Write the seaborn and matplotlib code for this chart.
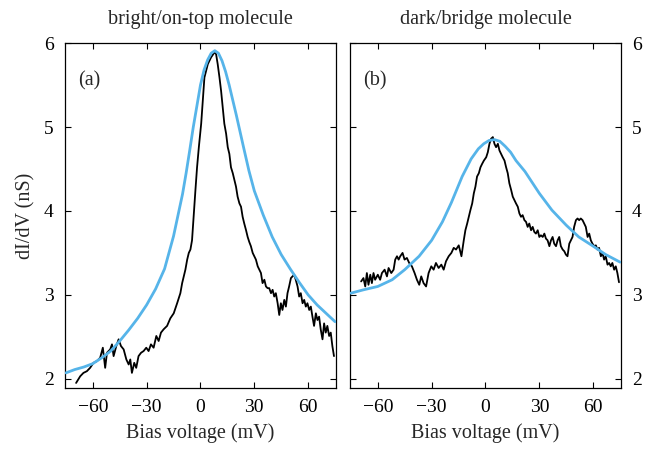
import numpy as np
import pandas as pd
import matplotlib
matplotlib.use("Agg")
import matplotlib.pyplot as plt
import seaborn as sns

# ---------------- data ----------------
# Panel (a): bright/on-top molecule
fit_a_x = [-75, -70, -65, -60, -55, -50, -45, -40, -35, -30, -25, -20, -15, -12, -10, -8, -6, -4,
           -2, 0, 2, 4, 6, 8, 10, 12, 14, 16, 18, 20, 22, 24, 27, 30, 35, 40, 45, 50, 55, 60, 65, 70, 75]
fit_a_y = [2.07, 2.11, 2.14, 2.18, 2.25, 2.33, 2.45, 2.58, 2.72, 2.88, 3.07, 3.31, 3.70, 4.00, 4.20,
           4.45, 4.72, 5.00, 5.25, 5.50, 5.68, 5.80, 5.88, 5.91, 5.88, 5.79, 5.66, 5.50, 5.32, 5.14,
           4.95, 4.76, 4.48, 4.24, 3.95, 3.69, 3.48, 3.31, 3.15, 3.00, 2.88, 2.78, 2.68]

exp_a_x = [-69.3, -67.0, -65.2, -63.3, -61.5, -59.6, -57.7, -55.9, -54.4, -53.1, -52.1, -50.3, -49.3,
           -48.4, -46.9, -45.6, -44.3, -42.8, -41.3, -40.0, -39.1, -38.2, -36.9, -35.8, -34.5, -33.1,
           -31.7, -30.2, -28.9, -27.6, -26.1, -24.6, -23.3, -22.0, -20.5, -18.6, -16.8, -14.9, -13.0,
           -11.2, -10.2, -9.3, -8.4, -7.4, -6.5, -5.6, -4.7, -3.7, -2.8, -1.9, -0.9, 0.4, 2.2, 4.1,
           5.9, 7.8, 8.7, 9.6, 10.6, 11.5, 12.4, 13.3, 14.3, 15.2, 16.1, 17.0, 18.0, 18.9, 19.8, 20.7,
           21.7, 22.6, 23.5, 24.4, 25.4, 26.3, 27.2, 28.1, 29.1, 30.0, 30.9, 31.9, 32.8, 33.7, 34.6,
           35.6, 36.5, 37.4, 38.3, 39.3, 40.2, 41.1, 42.0, 43.0, 43.9, 44.8, 45.7, 46.7, 47.6, 48.5,
           49.4, 50.4, 51.3, 52.2, 53.1, 54.1, 55.0, 55.9, 56.9, 57.8, 58.7, 59.6, 60.6, 61.5, 62.4,
           63.3, 64.3, 65.2, 66.1, 67.0, 68.0, 68.9, 69.8, 70.7, 71.7, 72.6, 73.5, 74.4]
exp_a_y = [1.95, 2.03, 2.07, 2.09, 2.13, 2.19, 2.21, 2.25, 2.37, 2.13, 2.31, 2.35, 2.41,
           2.27, 2.39, 2.47, 2.39, 2.35, 2.23, 2.17, 2.23, 2.07, 2.19, 2.13, 2.27, 2.31,
           2.33, 2.37, 2.33, 2.41, 2.37, 2.51, 2.45, 2.55, 2.59, 2.63, 2.72, 2.78, 2.90,
           3.02, 3.14, 3.22, 3.30, 3.42, 3.50, 3.54, 3.65, 3.97, 4.25, 4.52, 4.76, 5.04, 5.59, 5.75,
           5.83, 5.89, 5.87, 5.75, 5.59, 5.43, 5.24, 5.04, 4.92, 4.76, 4.68, 4.52, 4.45, 4.37, 4.29, 4.17,
           4.09, 4.05, 3.93, 3.85, 3.77, 3.69, 3.63, 3.58, 3.50, 3.46, 3.42, 3.34, 3.30, 3.26, 3.14,
           3.18, 3.10, 3.08, 3.08, 3.02, 3.06, 2.98, 3.02, 2.90, 2.76, 2.90, 2.82, 2.94, 2.86, 3.02,
           3.10, 3.20, 3.22, 3.24, 3.18, 3.10, 2.98, 3.02, 2.90, 2.94, 2.86, 2.90, 2.82, 2.86, 2.74,
           2.63, 2.78, 2.70, 2.74, 2.59, 2.47, 2.66, 2.55, 2.63, 2.51, 2.55, 2.39, 2.27]

# Panel (b): dark/bridge molecule
fit_b_x = [-75, -68, -60, -52, -45, -37, -30, -24, -19, -13, -8, -4, -1, 2, 5, 8, 11, 14, 17,
           22, 30, 37, 45, 52, 60, 67, 75]
fit_b_y = [3.02, 3.06, 3.10, 3.18, 3.30, 3.46, 3.65, 3.87, 4.10, 4.41, 4.62, 4.74, 4.80, 4.84,
           4.85, 4.83, 4.77, 4.70, 4.60, 4.47, 4.21, 4.01, 3.83, 3.69, 3.58, 3.48, 3.39]

exp_b_x = [-69.3, -68.0, -67.0, -66.1, -65.2, -64.2, -63.3, -62.4, -61.5, -60.0, -58.7, -57.7, -56.2,
           -54.9, -54.0, -52.5, -51.2, -50.3, -49.3, -48.4, -47.5, -46.2, -45.1, -43.8, -42.5, -41.0,
           -39.5, -38.2, -36.9, -35.8, -34.5, -33.1, -31.7, -30.2, -28.9, -27.6, -26.1, -24.6, -23.3,
           -22.0, -20.5, -19.0, -17.7, -16.4, -14.9, -13.4, -12.1, -11.2, -10.2, -9.3, -8.4, -7.4,
           -6.5, -5.6, -4.7, -3.7, -2.8, -1.9, -0.9, 0.4, 1.3, 2.2, 3.1, 4.1, 5.0, 5.9, 6.9, 7.8,
           8.7, 9.6, 10.6, 11.5, 12.4, 13.3, 14.3, 15.2, 16.1, 17.0, 18.0, 18.9, 19.8, 20.7, 21.7,
           22.6, 23.5, 24.4, 25.4, 26.3, 27.2, 28.1, 29.1, 30.0, 30.9, 31.9, 32.8, 33.7, 34.6, 35.6,
           36.5, 37.4, 38.3, 39.3, 40.2, 41.1, 42.0, 43.0, 43.9, 44.8, 45.7, 46.7, 47.6, 48.5, 49.4,
           50.4, 51.3, 52.2, 53.1, 54.1, 55.0, 55.9, 56.9, 57.8, 58.7, 59.6, 60.6, 61.5, 62.4, 63.3,
           64.3, 65.2, 66.1, 67.0, 68.0, 68.9, 69.8, 70.7, 71.7, 72.6, 73.5, 74.4]
exp_b_y = [3.16, 3.20, 3.10, 3.26, 3.12, 3.24, 3.14, 3.26, 3.18, 3.24, 3.18, 3.26, 3.30,
           3.22, 3.32, 3.26, 3.30, 3.42, 3.46, 3.42, 3.46, 3.50, 3.42, 3.44, 3.38, 3.34,
           3.26, 3.18, 3.12, 3.22, 3.14, 3.10, 3.26, 3.34, 3.30, 3.38, 3.32, 3.36, 3.30,
           3.40, 3.46, 3.50, 3.56, 3.54, 3.59, 3.46, 3.65, 3.77, 3.85, 3.93, 4.01, 4.09,
           4.21, 4.29, 4.41, 4.45, 4.52, 4.56, 4.60, 4.64, 4.70, 4.80, 4.86, 4.88, 4.80, 4.76, 4.80, 4.72,
           4.68, 4.64, 4.60, 4.52, 4.45, 4.33, 4.25, 4.17, 4.13, 4.09, 4.05, 3.97, 3.93, 3.95, 3.89,
           3.87, 3.81, 3.85, 3.77, 3.81, 3.75, 3.73, 3.77, 3.69, 3.71, 3.69, 3.73, 3.67, 3.65, 3.58,
           3.65, 3.69, 3.61, 3.58, 3.65, 3.69, 3.58, 3.54, 3.52, 3.48, 3.46, 3.61, 3.65, 3.69, 3.81,
           3.89, 3.91, 3.89, 3.91, 3.89, 3.85, 3.81, 3.69, 3.73, 3.65, 3.61, 3.58, 3.59, 3.54, 3.56,
           3.46, 3.50, 3.42, 3.46, 3.36, 3.38, 3.34, 3.38, 3.30, 3.34, 3.26, 3.15]

titles = ["bright/on-top molecule", "dark/bridge molecule"]
panel_labels = ["(a)", "(b)"]
x_ticks = [-60, -30, 0, 30, 60]
y_ticks = [2, 3, 4, 5, 6]

# ---------------- style ----------------
sns.set_style("ticks")
plt.rcParams["font.family"] = ["Liberation Serif", "DejaVu Serif"]
plt.rcParams["axes.unicode_minus"] = True
plt.rcParams["mathtext.fontset"] = "stix"

BLUE = "#56B4E9"
FS_TICK = 14
FS_LAB = 14.5

fig = plt.figure(figsize=(6.65, 4.54), dpi=100)
ax_a = fig.add_axes([0.0977, 0.1454, 0.4075, 0.7596])
ax_b = fig.add_axes([0.5263, 0.1454, 0.4075, 0.7596])

panels = [
    (ax_a, fit_a_x, fit_a_y, exp_a_x, exp_a_y),
    (ax_b, fit_b_x, fit_b_y, exp_b_x, exp_b_y),
]

for i, (ax, fx, fy, ex, ey) in enumerate(panels):
    df_exp = pd.DataFrame({"V": ex, "G": ey})
    df_fit = pd.DataFrame({"V": fx, "G": fy})
    sns.lineplot(data=df_exp, x="V", y="G", ax=ax, color="black", lw=1.3,
                 sort=False, estimator=None, zorder=2)
    sns.lineplot(data=df_fit, x="V", y="G", ax=ax, color=BLUE, lw=2.0,
                 sort=False, estimator=None, zorder=3)
    ax.set_xlim(-75.5, 75.5)
    ax.set_ylim(1.89, 6.0)
    ax.set_xticks(x_ticks)
    ax.set_yticks(y_ticks)
    ax.tick_params(direction="in", length=4, width=0.8, top=True, right=True, left=True,
                   bottom=True, labelsize=FS_TICK, pad=8, colors="black")
    for sp in ax.spines.values():
        sp.set_visible(True)
        sp.set_linewidth(0.9)
        sp.set_color("black")
    ax.set_xlabel("Bias voltage (mV)", fontsize=FS_LAB, labelpad=5)
    ax.set_ylabel("")
    ax.set_title(titles[i], fontsize=FS_LAB, pad=14)
    ax.text(0.05, 0.89, panel_labels[i], transform=ax.transAxes, fontsize=FS_LAB,
            ha="left", va="center")

ax_a.set_ylabel("dI/dV (nS)", fontsize=FS_LAB, labelpad=6)
ax_b.tick_params(labelleft=False, labelright=True)

fig.savefig("out.png", dpi=100)
